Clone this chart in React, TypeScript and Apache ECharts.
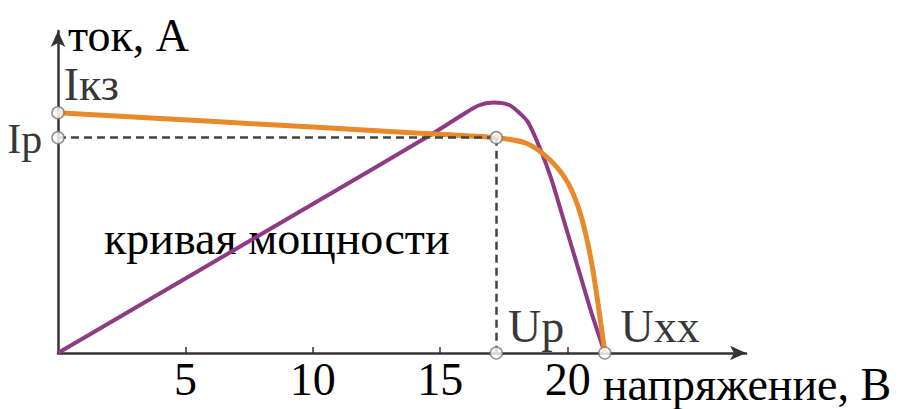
import React, { useEffect, useRef } from "react";
import * as echarts from "echarts";

// Voltage–current curve (orange)
const currentVoltage = [0, 4, 8, 12, 15, 17.2, 18.4, 19.3, 20.0, 20.5, 20.9, 21.2, 21.46];
const currentValues = [5.0, 4.88, 4.76, 4.64, 4.55, 4.48, 4.36, 4.02, 3.55, 2.9, 2.0, 1.0, 0];

// Power curve (purple)
const powerVoltage = [0, 5, 10, 14.5, 15.8, 16.5, 17.1, 17.7, 18.1, 18.46, 18.98, 19.37, 19.76, 20.16, 20.55, 20.94, 21.46];
const powerValues = [0, 1.55, 3.1, 4.5, 4.93, 5.15, 5.21, 5.16, 5.0, 4.79, 4.17, 3.6, 2.92, 2.21, 1.52, 0.83, 0];

// Characteristic points
const Isc = 5.0;
const Ip = 4.48;
const Up = 17.2;
const Uoc = 21.46;

const xTicks = [5, 10, 15, 20];
const pointNames = ["Iкз", "Ip", "", "Up", "Uxx"];

const FONT = "Liberation Serif, serif";

export default function App() {
  const ref = useRef<HTMLDivElement>(null);
  useEffect(() => {
    document.body.style.margin = "0";
    const chart = echarts.init(ref.current!, null, { renderer: "svg" });
    const pts = [
      [0, Isc],
      [0, Ip],
      [Up, Ip],
      [Up, 0],
      [Uoc, 0],
    ];
    const labelCfg: any[] = [
      { show: true, position: "right", offset: [-6, -28] },
      { show: true, position: "left", offset: [-4, 1], fontSize: 42 },
      { show: false },
      { show: true, position: "right", offset: [0, -27] },
      { show: true, position: "right", offset: [4, -27] },
    ];
    chart.setOption({
      animation: false,
      grid: { left: 58, right: 155, top: 31, bottom: 56 },
      xAxis: {
        type: "value",
        min: 0,
        max: 27,
        interval: 5,
        name: "напряжение, В",
        nameLocation: "end",
        nameGap: -143,
        nameTextStyle: {
          fontFamily: FONT,
          fontSize: 46,
          color: "#000",
          align: "left",
          verticalAlign: "top",
          padding: [8, 0, 0, 0],
        },
        axisLine: {
          show: true,
          symbol: ["none", "arrow"],
          symbolSize: [11, 16],
          lineStyle: { color: "#333", width: 2.5 },
        },
        axisTick: { show: true, inside: true, length: 6, customValues: xTicks, lineStyle: { color: "#333", width: 1.5 } },
        axisLabel: {
          customValues: xTicks,
          fontFamily: FONT,
          fontSize: 46,
          color: "#000",
          margin: 3,
        },
        splitLine: { show: false },
      },
      yAxis: {
        type: "value",
        min: 0,
        max: 6.7,
        name: "ток, А",
        nameLocation: "end",
        nameGap: -4,
        nameTextStyle: {
          fontFamily: FONT,
          fontSize: 46,
          color: "#000",
          align: "left",
          verticalAlign: "middle",
          padding: [0, 0, 0, 10],
        },
        axisLine: {
          show: true,
          symbol: ["none", "arrow"],
          symbolSize: [11, 16],
          lineStyle: { color: "#333", width: 2.5 },
        },
        axisTick: { show: false },
        axisLabel: { show: false },
        splitLine: { show: false },
      },
      graphic: [
        {
          type: "text",
          left: 104,
          top: 215,
          style: { text: "кривая мощности", font: `46px ${FONT}`, fill: "#000" },
          z: 1,
        },
      ],
      series: [
        {
          type: "line",
          name: "мощность",
          data: powerVoltage.map((v, i) => [v, powerValues[i]]),
          smooth: 0.3,
          symbol: "none",
          lineStyle: { color: "#8E3A85", width: 4 },
          z: 3,
        },
        {
          type: "line",
          name: "ток",
          data: currentVoltage.map((v, i) => [v, currentValues[i]]),
          smooth: 0.3,
          symbol: "none",
          lineStyle: { color: "#E8892A", width: 5 },
          z: 4,
          markLine: {
            silent: true,
            symbol: "none",
            label: { show: false },
            lineStyle: { color: "#444", width: 2.5, type: [8, 5] },
            data: [
              [{ coord: [0, Ip] }, { coord: [Up, Ip] }],
              [{ coord: [Up, Ip] }, { coord: [Up, 0] }],
            ],
          },
        },
        {
          type: "scatter",
          symbol: "circle",
          symbolSize: 12,
          itemStyle: { color: "#fff", borderColor: "#777", borderWidth: 1.5 },
          z: 10,
          label: { fontFamily: FONT, fontSize: 46, color: "#000" },
          data: pts.map((p, i) => ({
            value: p,
            name: pointNames[i],
            label: { ...labelCfg[i], formatter: pointNames[i] },
          })),
        },
      ],
    });
    return () => chart.dispose();
  }, []);
  return (
    <div
      ref={ref}
      style={{ position: "absolute", left: 0, top: 0, width: 901, height: 409, background: "#fff" }}
    />
  );
}
